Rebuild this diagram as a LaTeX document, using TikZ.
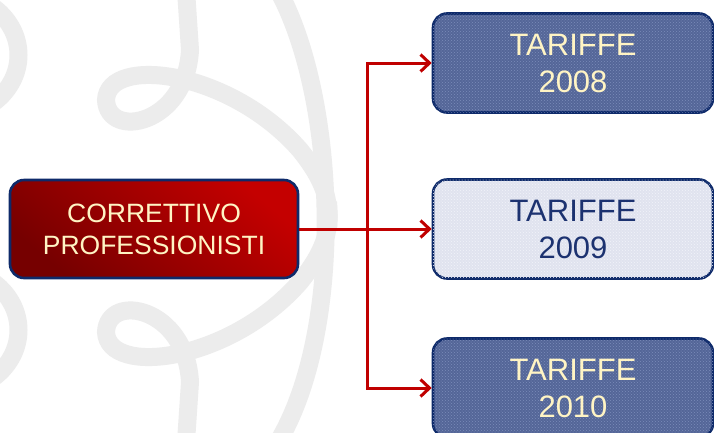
\documentclass[tikz,border=0pt]{standalone}
\usepackage{fontspec}
\setmainfont{Liberation Sans}
\usepackage{xcolor}
\definecolor{wmgrey}{RGB}{236,236,236}
\definecolor{corrdark}{RGB}{118,0,0}
\definecolor{corrlight}{RGB}{196,0,0}
\definecolor{navy}{RGB}{14,42,106}
\definecolor{cream}{RGB}{255,244,196}
\definecolor{tarblue}{RGB}{84,102,152}
\definecolor{tarbluedot}{RGB}{124,140,186}
\definecolor{tarpale}{RGB}{224,227,239}
\definecolor{tarpaledot}{RGB}{242,243,249}
\definecolor{tartext}{RGB}{28,50,112}
\definecolor{arrred}{RGB}{192,0,0}
\usetikzlibrary{arrows.meta,patterns,positioning}

\begin{document}
\begin{tikzpicture}[x=1pt,y=-1pt,
    box/.style={draw=navy, line width=2.6pt, rounded corners=14pt,
                align=center, inner sep=0pt},
    corrbox/.style={box, minimum width=288pt, minimum height=98pt,
                    top color=corrlight, bottom color=corrdark, shading angle=-40,
                    text=cream, font=\fontsize{26.5}{32}\selectfont},
    tarbox/.style={box, minimum width=280pt, minimum height=99pt,
                   font=\fontsize{31}{37}\selectfont},
    tardark/.style={tarbox, fill=tarblue, text=cream,
                    postaction={pattern=crosshatch dots, pattern color=tarbluedot}},
    tarlight/.style={tarbox, fill=tarpale, text=tartext,
                     postaction={pattern=crosshatch dots, pattern color=tarpaledot}},
    conn/.style={draw=arrred, line width=3pt,
                 -{Straight Barb[length=9pt,width=17pt]}}]

    \clip (0,0) rectangle (714,432);
    \fill[white] (0,0) rectangle (714,432);

    % watermark in the background
    \begin{scope}[draw=wmgrey, line width=18pt]
        \draw (278,-10) .. controls (338,100) and (345,330) .. (278,442);
        \draw (186,-10) -- (190,50) .. controls (186,125) and (108,140) .. (106,100)
              .. controls (108,55) and (230,70) .. (300,150)
              .. controls (328,185) and (330,205) .. (328,230);
        \draw (186,442) -- (190,382) .. controls (186,307) and (108,292) .. (106,332)
              .. controls (108,377) and (230,362) .. (300,282)
              .. controls (328,247) and (330,227) .. (328,202);
        \draw (-10,5) .. controls (28,30) and (28,80) .. (-10,105);
        \draw (-10,280) .. controls (28,305) and (28,355) .. (-10,380);
    \end{scope}

    \node[corrbox] (corr) at (154,229) {CORRETTIVO\\PROFESSIONISTI};
    \node[tardark] (t2008) at (573,63) {TARIFFE\\2008};
    \node[tarlight] (t2009) at (573,229) {TARIFFE\\2009};
    \node[tardark] (t2010) at (573,388) {TARIFFE\\2010};

    \coordinate (split) at (367,229);
    \draw[conn] (corr.east) -- (t2009.west);
    \draw[conn] (corr.east) -- (split) |- (t2008.west);
    \draw[conn] (corr.east) -- (split) |- (t2010.west);
\end{tikzpicture}
\end{document}
